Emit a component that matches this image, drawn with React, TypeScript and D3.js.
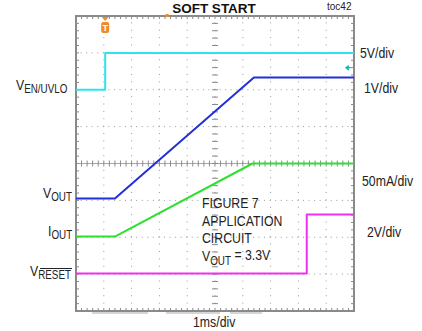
import * as d3 from "d3"
import type { ReactNode } from "react"

const W = 422
const H = 331

// screen: 10 horizontal divisions (1ms/div), 8 vertical divisions
const xDivs = d3.range(0, 11)
const yDivs = d3.range(-4, 5)

// traces: time in ms, level in divisions from screen centre
const enTime = [0, 1.05, 1.05, 10]
const enLevel = [2.0, 2.0, 3.0, 3.0]
const voutTime = [0, 1.4, 6.4, 10]
const voutLevel = [-0.95, -0.95, 2.33, 2.33]
const ioutTime = [0, 1.4, 6.35, 10]
const ioutLevel = [-1.98, -1.98, 0, 0]
const resetTime = [0, 8.3, 8.3, 10]
const resetLevel = [-2.98, -2.98, -1.38, -1.38]

const scaleLabels = ["5V/div", "1V/div", "50mA/div", "2V/div"]
const noteLines = ["FIGURE 7", "APPLICATION", "CIRCUIT"]

const font = "'Liberation Sans', Arial, sans-serif"
const ink = "#222"

// condensed text (the original uses a narrow face)
function N({ x, y, size = 15, children }: { x: number; y: number; size?: number; children: ReactNode }) {
  return (
    <text transform={`translate(${x},${y}) scale(0.82,1)`} fontSize={size} fill={ink}>
      {children}
    </text>
  )
}

export default function App() {
  const x = d3.scaleLinear().domain([0, 10]).range([76, 354])
  const y = d3.scaleLinear().domain([-4, 4]).range([311, 16])
  const dx = (x(1) - x(0)) / 5
  const dy = (y(0) - y(1)) / 5

  const line = d3
    .line<[number, number]>()
    .x((d) => x(d[0]))
    .y((d) => y(d[1]))

  const traces = [
    { t: enTime, v: enLevel, color: "#2fe3ee" },
    { t: voutTime, v: voutLevel, color: "#2230d6" },
    { t: ioutTime, v: ioutLevel, color: "#2fe02f" },
    { t: resetTime, v: resetLevel, color: "#f030ee" },
  ]

  const minorX = d3.range(0, 51).map((i) => i / 5)
  const minorY = d3.range(-20, 21).map((i) => i / 5)

  return (
    <svg width={W} height={H} style={{ position: "absolute", left: 0, top: 0, background: "#fff" }} fontFamily={font}>
      {/* dotted grid */}
      {xDivs.slice(1, -1).map((d) => (
        <line key={"gx" + d} x1={x(d)} x2={x(d)} y1={y(4)} y2={y(-4)} stroke="#9a9a9a" strokeWidth={1} strokeDasharray={`1,${dy - 1}`} strokeDashoffset={-dy + 1} />
      ))}
      {yDivs.slice(1, -1).filter((d) => d !== 0).map((d) => (
        <line key={"gy" + d} x1={x(0)} x2={x(10)} y1={y(d)} y2={y(d)} stroke="#9a9a9a" strokeWidth={1} strokeDasharray={`1,${dx - 1}`} strokeDashoffset={-dx + 1} />
      ))}
      {/* centre axes */}
      <line x1={x(0)} x2={x(10)} y1={y(0)} y2={y(0)} stroke="#a8a8a8" strokeWidth={1} />
      {minorX.map((d) => (
        <line key={"cx" + d} x1={x(d)} x2={x(d)} y1={y(0) - 3} y2={y(0) + 3} stroke="#8a8a8a" />
      ))}
      {minorY.map((d) => (
        <line key={"cy" + d} x1={x(5) - 3} x2={x(5) + 3} y1={y(d)} y2={y(d)} stroke="#8a8a8a" />
      ))}
      {/* border ticks */}
      {minorX.map((d) => (
        <g key={"bx" + d} stroke="#8a8a8a">
          <line x1={x(d)} x2={x(d)} y1={y(4)} y2={y(4) + 3} />
          <line x1={x(d)} x2={x(d)} y1={y(-4)} y2={y(-4) - 3} />
        </g>
      ))}
      {minorY.map((d) => (
        <g key={"by" + d} stroke="#8a8a8a">
          <line x1={x(0)} x2={x(0) + 3} y1={y(d)} y2={y(d)} />
          <line x1={x(10)} x2={x(10) - 3} y1={y(d)} y2={y(d)} />
        </g>
      ))}
      <rect x={x(0)} y={y(4)} width={x(10) - x(0)} height={y(-4) - y(4)} fill="none" stroke="#8a8a8a" strokeWidth={2} />
      {/* scope status bars below screen */}
      <line x1={92} x2={148} y1={313} y2={313} stroke="#c8c8c8" strokeWidth={1.5} />
      <line x1={166} x2={220} y1={313} y2={313} stroke="#c8c8c8" strokeWidth={1.5} />
      <line x1={230} x2={262} y1={313} y2={313} stroke="#c8c8c8" strokeWidth={1.5} />

      {/* traces */}
      {traces.map((tr, i) => (
        <path
          key={i}
          d={line(tr.t.map((t, j) => [t, tr.v[j]] as [number, number])) || ""}
          fill="none"
          stroke={tr.color}
          strokeWidth={2}
          strokeLinejoin="round"
        />
      ))}

      {/* trigger markers */}
      <line x1={x(3.28)} x2={x(3.28)} y1={14} y2={17} stroke="#f08c28" strokeWidth={3} />
      <path d={`M${x(1.05) - 3.5},${17} L${x(1.05) + 3.5},${17} L${x(1.05)},${21} Z`} fill="#f08c28" />
      <rect x={x(1.05) - 4} y={22} width={8} height={11} rx={2} fill="#f08c28" />
      <text x={x(1.05)} y={31} textAnchor="middle" fontSize={9} fontWeight="bold" fill="#fff">T</text>
      <path d={`M${x(9.78) - 3},${y(2.6)} L${x(9.78) + 1},${y(2.6) - 3} L${x(9.78) + 1},${y(2.6) + 3} Z`} fill="#1fb0b8" />
      <line x1={x(9.78)} x2={x(9.78) + 3} y1={y(2.6)} y2={y(2.6)} stroke="#1fb0b8" strokeWidth={1.2} />

      {/* title and tags */}
      <text x={214} y={12.5} textAnchor="middle" fontSize={13.5} fontWeight="bold" fill="#111">SOFT START</text>
      <text x={327} y={10} fontSize={10} fill={ink}>toc42</text>

      {/* scale labels */}
      <N x={360} y={58}>{scaleLabels[0]}</N>
      <N x={364} y={93}>{scaleLabels[1]}</N>
      <N x={362} y={186}>{scaleLabels[2]}</N>
      <N x={367} y={237}>{scaleLabels[3]}</N>

      {/* channel labels */}
      <N x={16} y={90}>
        V<tspan fontSize={12} dy={3}>EN/UVLO</tspan>
      </N>
      <N x={43} y={198}>
        V<tspan fontSize={12} dy={3}>OUT</tspan>
      </N>
      <N x={48} y={236}>
        I<tspan fontSize={12} dy={3}>OUT</tspan>
      </N>
      <N x={30} y={276}>
        V<tspan fontSize={12} dy={3}>RESET</tspan>
      </N>
      <line x1={40} x2={72} y1={268.5} y2={268.5} stroke={ink} strokeWidth={1} />

      {/* annotation */}
      {noteLines.map((s, i) => (
        <N key={s} x={202} y={208 + i * 17.5}>{s}</N>
      ))}
      <N x={202} y={261}>
        V<tspan fontSize={12} dy={4}>OUT</tspan>
        <tspan dy={-5}> = 3.3V</tspan>
      </N>

      <N x={193} y={327}>1ms/div</N>
    </svg>
  )
}
